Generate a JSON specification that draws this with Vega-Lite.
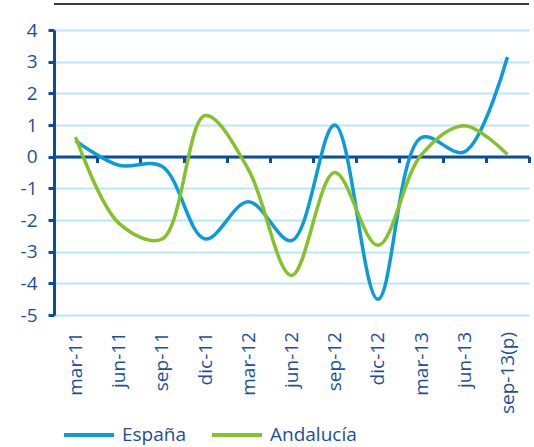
{
  "$schema": "https://vega.github.io/schema/vega-lite/v6.json",
  "width": 475,
  "height": 285,
  "autosize": {"type": "none"},
  "padding": {"left": 54, "top": 30, "right": 5, "bottom": 132},
  "background": "white",
  "config": {
    "view": {"stroke": null},
    "font": "Open Sans",
    "axisY": {
      "values": [-5, -4, -3, -2, -1, 0, 1, 2, 3, 4],
      "labelExpr": "toString(datum.value)",
      "labelOverlap": false,
      "labelBound": false,
      "domainColor": "#0d4c9c",
      "domainWidth": 3,
      "tickColor": "#0d4c9c",
      "tickWidth": 3,
      "tickSize": 6,
      "labelPadding": 11,
      "labelColor": "#1b4f9c",
      "labelFontSize": 19,
      "labelFont": "Open Sans",
      "grid": true,
      "gridColor": "#bde5f7",
      "gridWidth": 2
    }
  },
  "data": {
    "values": [
      {"fecha": "mar-11", "serie": "España", "valor": 0.5},
      {"fecha": "jun-11", "serie": "España", "valor": -0.27},
      {"fecha": "sep-11", "serie": "España", "valor": -0.3},
      {"fecha": "dic-11", "serie": "España", "valor": -2.6},
      {"fecha": "mar-12", "serie": "España", "valor": -1.42},
      {"fecha": "jun-12", "serie": "España", "valor": -2.65},
      {"fecha": "sep-12", "serie": "España", "valor": 1.0},
      {"fecha": "dic-12", "serie": "España", "valor": -4.5},
      {"fecha": "mar-13", "serie": "España", "valor": 0.6},
      {"fecha": "jun-13", "serie": "España", "valor": 0.15},
      {"fecha": "sep-13(p)", "serie": "España", "valor": 3.15},
      {"fecha": "mar-11", "serie": "Andalucía", "valor": 0.62},
      {"fecha": "jun-11", "serie": "Andalucía", "valor": -2.1},
      {"fecha": "sep-11", "serie": "Andalucía", "valor": -2.6},
      {"fecha": "dic-11", "serie": "Andalucía", "valor": 1.3},
      {"fecha": "mar-12", "serie": "Andalucía", "valor": -0.4},
      {"fecha": "jun-12", "serie": "Andalucía", "valor": -3.75},
      {"fecha": "sep-12", "serie": "Andalucía", "valor": -0.5},
      {"fecha": "dic-12", "serie": "Andalucía", "valor": -2.8},
      {"fecha": "mar-13", "serie": "Andalucía", "valor": 0.05},
      {"fecha": "jun-13", "serie": "Andalucía", "valor": 0.98},
      {"fecha": "sep-13(p)", "serie": "Andalucía", "valor": 0.07}
    ]
  },
  "layer": [
    {
      "mark": {"type": "line", "interpolate": "catmull-rom", "strokeWidth": 3.5, "clip": false},
      "encoding": {
        "x": {
          "field": "fecha",
          "type": "ordinal",
          "sort": null,
          "title": null,
          "axis": {
            "orient": "bottom",
            "offset": -158.5,
            "domainColor": "#0d4c9c",
            "domainWidth": 3,
            "tickColor": "#0d4c9c",
            "tickWidth": 3,
            "tickSize": 6,
            "tickBand": "extent",
            "labelAngle": -90,
            "labelAlign": "right",
            "labelBaseline": "middle",
            "labelPadding": 169,
            "labelColor": "#1b4f9c",
            "labelFontSize": 19,
            "labelFont": "Open Sans",
            "labelOverlap": false,
            "grid": false
          }
        },
        "y": {
          "field": "valor",
          "type": "quantitative",
          "title": null,
          "scale": {"domain": [-5, 4], "nice": false, "zero": false}
        },
        "color": {
          "field": "serie",
          "type": "nominal",
          "sort": ["España", "Andalucía"],
          "scale": {"domain": ["España", "Andalucía"], "range": ["#0a9bdc", "#84c228"]},
          "legend": {
            "title": null,
            "orient": "none",
            "direction": "horizontal",
            "legendX": 8,
            "legendY": 378,
            "symbolType": "stroke",
            "symbolSize": 2500,
            "symbolStrokeWidth": 4,
            "labelFontSize": 19,
            "labelFont": "Open Sans",
            "labelColor": "#1b4f9c",
            "labelOffset": 6,
            "columnPadding": 17
          }
        }
      }
    },
    {
      "mark": {"type": "rule", "color": "#3a3a3a", "strokeWidth": 1.5, "clip": false},
      "encoding": {"y": {"datum": 4.82, "type": "quantitative", "title": null}}
    }
  ]
}
